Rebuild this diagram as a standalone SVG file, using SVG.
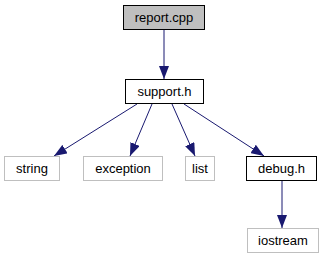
<svg xmlns="http://www.w3.org/2000/svg" width="324" height="261" viewBox="0 0 324 261">
  <defs>
    <style>
      .box { fill: #ffffff; stroke: #000000; stroke-width: 1; }
      .focus { fill: #bfbfbf; stroke: #000000; stroke-width: 1; }
      .ext { fill: #ffffff; stroke: #bfbfbf; stroke-width: 1; }
      .label { font-family: "Liberation Sans", Arial, Helvetica, sans-serif; font-size: 13px; fill: #000000; text-anchor: middle; }
      .edge { fill: none; stroke: #191970; stroke-width: 1; }
    </style>
    <marker id="arrow" viewBox="0 0 13 10" refX="13" refY="5" markerWidth="13" markerHeight="10" markerUnits="userSpaceOnUse" orient="auto">
      <path d="M0,0 L13,5 L0,10 Z" fill="#191970"/>
    </marker>
  </defs>
  <rect width="324" height="261" fill="#ffffff"/>

  <g id="connectors">
    <path class="edge" d="M164,30 L164,79" marker-end="url(#arrow)"/>
    <path class="edge" d="M137,104 L54,156" marker-end="url(#arrow)"/>
    <path class="edge" d="M152,104 L130,156" marker-end="url(#arrow)"/>
    <path class="edge" d="M172,104 L195,156" marker-end="url(#arrow)"/>
    <path class="edge" d="M184,104 L264,156" marker-end="url(#arrow)"/>
    <path class="edge" d="M282,181 L282,228" marker-end="url(#arrow)"/>
  </g>

  <g id="report_cpp">
    <rect class="focus" x="123.5" y="5.5" width="81" height="24"/>
    <text class="label" x="164" y="22">report.cpp</text>
  </g>
  <g id="support_h">
    <rect class="box" x="125.5" y="79.5" width="78" height="24"/>
    <text class="label" x="164.5" y="96">support.h</text>
  </g>
  <g id="string">
    <rect class="ext" x="4.5" y="156.5" width="55" height="24"/>
    <text class="label" x="32" y="173">string</text>
  </g>
  <g id="exception">
    <rect class="ext" x="83.5" y="156.5" width="79" height="24"/>
    <text class="label" x="123" y="173">exception</text>
  </g>
  <g id="list">
    <rect class="ext" x="185.5" y="156.5" width="29" height="24"/>
    <text class="label" x="200" y="173">list</text>
  </g>
  <g id="debug_h">
    <rect class="box" x="246.5" y="156.5" width="70" height="24"/>
    <text class="label" x="281.5" y="173">debug.h</text>
  </g>
  <g id="iostream">
    <rect class="ext" x="247.5" y="228.5" width="71" height="24"/>
    <text class="label" x="283" y="245">iostream</text>
  </g>
</svg>
